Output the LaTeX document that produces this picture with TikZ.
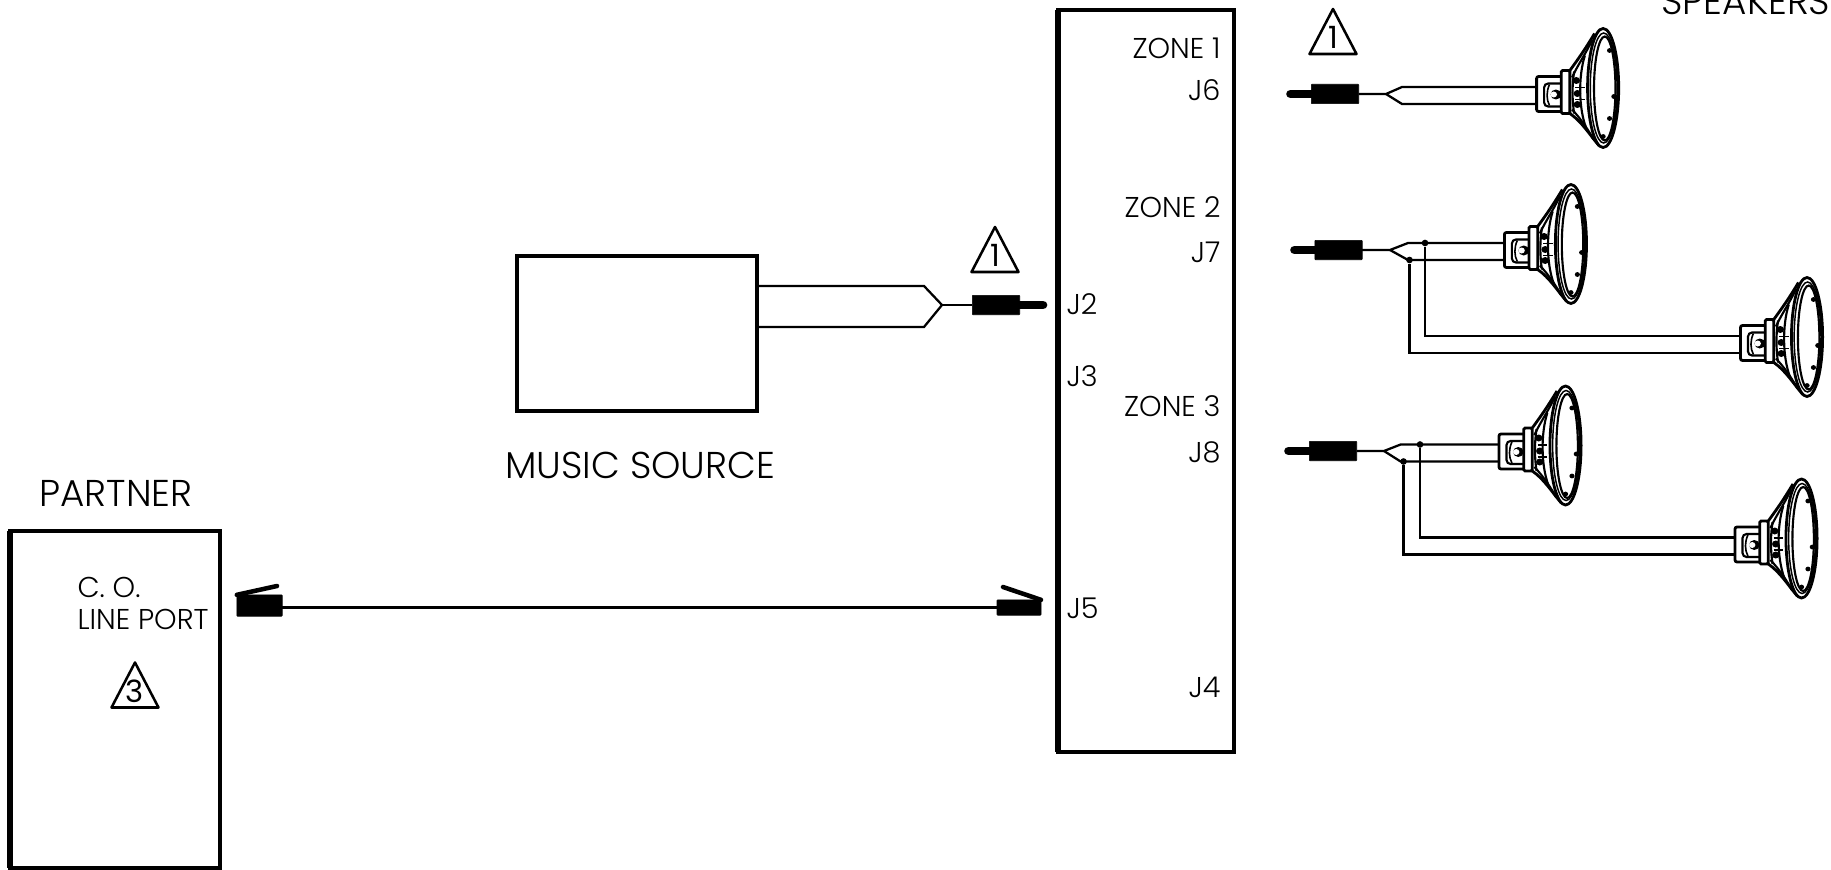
\documentclass[tikz,border=0pt]{standalone}
\usepackage{fontspec}
\setmainfont{Poppins}[UprightFont=* Light]
\newfontfamily\tagfont{Poppins}
\tikzset{every picture/.style={line width=0.75pt}}
\tikzset{
  wire/.style={line width=1.7pt,line join=miter},
  frame/.style={draw,line width=2.6pt,inner sep=0pt,outer sep=0pt},
  plugbody/.style={fill=black,draw=black,line width=0.5pt,minimum width=35.5pt,minimum height=14.5pt,inner sep=0pt,outer sep=0pt,rounded corners=0.5pt},
  pin/.style={line width=6.5pt,line cap=round},
  lever/.style={line width=3.4pt,line cap=round},
  lab/.style={inner sep=0pt,font=\fontsize{21.5}{26}\selectfont},
  biglab/.style={inner sep=0pt,font=\fontsize{28}{32}\selectfont},
  joint/.style={circle,fill=black,inner sep=0pt,minimum size=5pt},
  warntri/.pic={
    \begin{scope}[yscale=-1]
    \draw[line width=1.9pt,line join=round] (-23.5,22.5) -- (0,-22.5) -- (23.5,22.5) -- cycle;
    \node[inner sep=0pt,font=\tagfont\fontsize{23}{24}\selectfont] (t) at (0,6) {#1};
    \end{scope}
  },
  speaker/.pic={
    \begin{scope}[xscale=1.073,yscale=-1]
    \coordinate (-in1) at (0,-8.5);
    \coordinate (-in2) at (0,8.5);
    % cone
    \draw[line width=2.1pt] (31,-25) .. controls (37,-34) and (44,-44) .. (54,-62);
    \draw[line width=2.1pt] (31,18) .. controls (42,26) and (50,40) .. (58,50);
    \draw[line width=1.6pt] (33,-18) .. controls (38,-30) and (46,-42) .. (52,-56);
    \draw[line width=1.6pt] (33,14) .. controls (40,22) and (47,32) .. (53,44);
    \draw[line width=1.6pt] (45,-40) .. controls (39,-20) and (39,12) .. (46,32);
    \draw[line width=1.6pt] (35,-24) .. controls (33,-10) and (33,4) .. (35,18);
    \fill (37,-15) circle (3.5);
    \fill (38,-2) circle (3.5);
    \fill (38,9) circle (3.5);
    \draw[line width=1.2pt] (36,-8) -- (45,-8);
    \draw[line width=1.2pt] (36,4) -- (45,4);
    % rim
    \draw[line width=2.1pt,fill=white] (62,-7.5) ellipse (14.5 and 59.5);
    \draw[line width=1.1pt] (62.5,-7.5) ellipse (12.5 and 55);
    \draw[line width=1.6pt] (63.5,-7) ellipse (10 and 52);
    \fill (68,-45) circle (2.4);
    \fill (72,1) circle (2.4);
    \fill (68,23) circle (2.4);
    \fill (62,41) circle (2.4);
    % magnet
    \draw[line width=2.1pt,rounded corners=1.5pt] (0,-19) rectangle (26,16);
    \draw[line width=2.1pt,fill=white,rounded corners=1pt] (23,-25) rectangle (31,18);
    \draw[line width=1.6pt,rounded corners=3pt] (23,-12) -- (7,-12) -- (7,11) -- (23,11);
    \draw[line width=1.2pt] (12,-11) .. controls (9,-4) and (9,4) .. (12,10);
    \fill (18,-1) circle (5);
    \fill[white] (16,-1) circle (3);
    \end{scope}
  },
}
\begin{document}
\begin{tikzpicture}[x=0.75pt,y=0.75pt,yscale=-1]
\useasboundingbox (0,0) rectangle (1831,870);
%Boxes
\node[frame,minimum width=132pt,minimum height=556.5pt] (panel) at (1146,381) {};
\draw[line width=3.8pt] (panel.south west) -- (panel.north west);
\node[frame,minimum width=180pt,minimum height=116pt] (music) at (637,333.5) {};
\draw[line width=3pt] (music.south west) -- (music.north west);
\node[frame,minimum width=157.5pt,minimum height=252.5pt] (partner) at (115,699.5) {};
\draw[line width=3.8pt] (partner.south west) -- (partner.north west);
%Panel labels
\node[lab,anchor=east] (zoneA) at (1221,48) {ZONE 1};
\node[lab,anchor=east] (jsix) at (1221,90) {J6};
\node[lab,anchor=east] (zoneB) at (1221,207) {ZONE 2};
\node[lab,anchor=east] (jseven) at (1221,252) {J7};
\node[lab,anchor=east] (zoneC) at (1221,406) {ZONE 3};
\node[lab,anchor=east] (jeight) at (1221,452) {J8};
\node[lab,anchor=east] (jfour) at (1221,687) {J4};
\node[lab,anchor=west] (jtwo) at (1066,304) {J2};
\node[lab,anchor=west] (jthree) at (1066,376) {J3};
\node[lab,anchor=west] (jfive) at (1066,608) {J5};
%Other labels
\node[biglab] (musiclab) at (640,465) {MUSIC SOURCE};
\node[biglab] (partnerlab) at (116,493) {PARTNER};
\node[biglab,anchor=base west] (speakerlab) at (1661,15) {SPEAKERS};
\node[lab,anchor=west] (colab) at (77,587) {C. O.};
\node[lab,anchor=west] (portlab) at (77,619) {LINE PORT};
%Triangles
\pic (triA) at (995,249.5) {warntri=1};
\pic (triB) at (1333,31.5) {warntri=1};
\pic (triC) at (135,685) {warntri=3};
%Music cable
\node[plugbody] (plugM) at (996,305) {};
\coordinate (pinM) at (1043,305);
\draw[pin] (plugM.east) -- (pinM);
\coordinate (forkM) at (942,305);
\coordinate (musA) at (924,286);
\coordinate (musB) at (924,327);
\draw[wire] (plugM.west) -- (forkM);
\draw[wire] (music.east |- musA) -- (musA) -- (forkM) -- (musB) -- (music.east |- musB);
%Line cable
\node[plugbody,minimum width=34pt,minimum height=16pt] (plugL) at (259.5,605.5) {};
\node[plugbody,minimum width=33pt,minimum height=11.5pt] (plugR) at (1019,607.5) {};
\coordinate (levL) at (277,586);
\coordinate (levR) at (1003,587);
\draw[lever] (plugL.north west) -- (levL);
\draw[lever] (plugR.north east) -- (levR);
\draw[wire] (plugL.east |- plugR.west) -- (plugR.west);
%Speakers
\pic (spkA) at (1536.6,95.5) {speaker};
\pic (spkB) at (1504.4,251.5) {speaker};
\pic (spkC) at (1740.5,344.5) {speaker};
\pic (spkD) at (1499,453) {speaker};
\pic (spkE) at (1735,546) {speaker};
%Zone 1
\node[plugbody] (plugA) at (1335,94) {};
\coordinate (pinA) at (1290.5,94);
\draw[pin] (plugA.west) -- (pinA);
\coordinate (forkA) at (1386,94);
\coordinate (upA) at (1402,87);
\coordinate (dnA) at (1402,104);
\draw[wire] (plugA.east) -- (forkA) -- (upA) -- (spkA-in1);
\draw[wire] (forkA) -- (dnA) -- (spkA-in2);
%Zone 2
\node[plugbody] (plugB) at (1338.5,250) {};
\coordinate (pinB) at (1294.5,250);
\draw[pin] (plugB.west) -- (pinB);
\coordinate (forkB) at (1390,250);
\coordinate (upB) at (1408,243);
\coordinate (dnB) at (1408,260);
\node[joint] (dotB) at (1425,243) {};
\node[joint] (dotBB) at (1409.5,260) {};
\draw[wire] (plugB.east) -- (forkB) -- (upB) -- (spkB-in1);
\draw[wire] (forkB) -- (dnB) -- (spkB-in2);
\draw[wire] (dotB) |- (spkC-in1);
\draw[wire] (dotBB) |- (spkC-in2);
%Zone 3
\node[plugbody] (plugC) at (1333,451) {};
\coordinate (pinC) at (1288.5,451);
\draw[pin] (plugC.west) -- (pinC);
\coordinate (forkC) at (1384,451);
\coordinate (upC) at (1400.6,444.5);
\coordinate (dnC) at (1400.6,461.5);
\node[joint] (dotC) at (1420,444.5) {};
\node[joint] (dotCC) at (1403.5,461.5) {};
\draw[wire] (plugC.east) -- (forkC) -- (upC) -- (spkD-in1);
\draw[wire] (forkC) -- (dnC) -- (spkD-in2);
\draw[wire] (dotC) |- (spkE-in1);
\draw[wire] (dotCC) |- (spkE-in2);
\end{tikzpicture}
\end{document}
